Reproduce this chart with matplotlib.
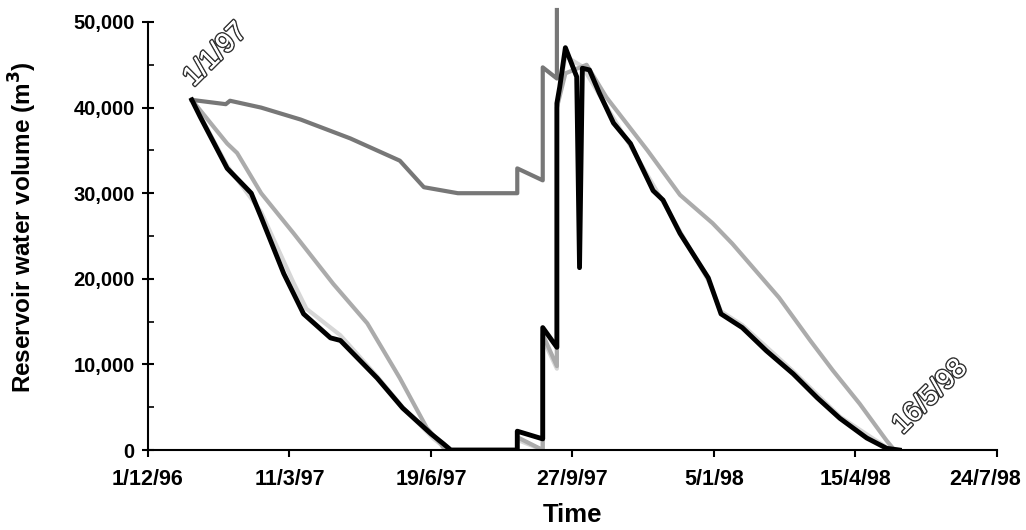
import matplotlib
matplotlib.use("Agg")
import matplotlib.pyplot as plt
import matplotlib.patheffects as pe
from matplotlib.ticker import MultipleLocator
from matplotlib.transforms import ScaledTranslation

# x values are days since 1/12/96
tick_days = [0, 100, 200, 300, 400, 500, 600]
tick_labels = ['1/12/96', '11/3/97', '19/6/97', '27/9/97', '5/1/98', '15/4/98', '24/7/98']
y_ticks = [0, 10000, 20000, 30000, 40000, 50000]

# dark grey series
dark_days = [31, 55, 58, 80, 108, 143, 178, 195, 219, 261, 261, 279, 279, 289, 289]
dark_vals = [40900, 40400, 40800, 40000, 38600, 36400, 33800, 30700, 30000, 30000, 32900, 31500, 44700, 43400, 51400]

# black series
black_days = [31, 37, 56, 73, 80, 96, 110, 129, 136, 162, 180, 200, 209, 214, 261, 261, 279, 279, 289, 289,
              291, 295, 303, 305, 307, 312, 319, 329, 341, 357, 364, 376, 396, 405, 420, 437, 456, 473,
              489, 508, 522, 531]
black_vals = [40900, 38900, 32900, 30000, 27200, 20600, 15900, 13100, 12800, 8400, 4900, 1900, 700, 0, 0, 2200,
              1300, 14300, 12000, 40500, 42400, 47000, 43600, 21300, 44600, 44400, 41700, 38200, 35800, 30300,
              29200, 25300, 20100, 15900, 14300, 11600, 8900, 6100, 3700, 1400, 200, 0]

# medium light grey series
mid_days = [31, 56, 63, 80, 103, 131, 155, 178, 197, 207, 210, 261, 261, 279, 279, 289, 289, 295, 310,
            324, 353, 376, 399, 413, 446, 468, 484, 503, 522, 527]
mid_vals = [40900, 35800, 34700, 30000, 25300, 19400, 14800, 8400, 2600, 700, 0, 0, 1500, 0, 13500, 9800,
            40000, 44000, 45000, 41200, 35000, 29800, 26500, 24100, 17800, 12800, 9300, 5400, 1100, 100]

# very light grey series
light_days = [31, 56, 80, 103, 112, 136, 162, 180, 202, 212, 261, 261, 279, 279, 289, 289, 295, 307,
              319, 341, 364, 396, 405, 420, 456, 489, 522, 530]
light_vals = [40900, 33200, 27800, 19500, 16500, 13400, 8600, 5000, 1300, 0, 0, 1200, 0, 13000, 9500,
              40000, 46000, 44800, 41500, 35500, 29000, 19800, 16200, 14600, 9200, 3900, 300, 0]

fam = ['Liberation Sans', 'DejaVu Sans']

fig = plt.figure(figsize=(10.26, 5.30), dpi=100)
ax = fig.add_axes([0.1442, 0.1509, 0.8275, 0.8076])

ax.plot(light_days, light_vals, color='#d6d6d6', lw=3)
ax.plot(mid_days, mid_vals, color='#ababab', lw=3)
ax.plot(dark_days, dark_vals, color='#777777', lw=3, clip_on=False)
ax.plot(black_days, black_vals, color='black', lw=3.5)

ax.set_xlim(0, 600)
ax.set_ylim(0, 50000)
ax.set_xticks(tick_days)
ax.set_xticklabels(tick_labels)
ax.set_yticks(y_ticks)
ax.set_yticklabels([f'{v:,}' for v in y_ticks])
ax.yaxis.set_minor_locator(MultipleLocator(5000))

ax.spines['top'].set_visible(False)
ax.spines['right'].set_visible(False)
ax.spines['left'].set_linewidth(1.5)
ax.spines['bottom'].set_linewidth(1.5)
ax.tick_params(axis='x', direction='out', length=5, width=1.5, pad=8.5)
ax.tick_params(axis='y', which='major', direction='inout', length=9, width=1.5, pad=5)
ax.tick_params(axis='y', which='minor', direction='in', length=4, width=1.2)

for lab in ax.get_xticklabels() + ax.get_yticklabels():
    lab.set_family(fam)
    lab.set_fontweight('bold')
for lab in ax.get_xticklabels():
    lab.set_fontsize(15.5)
for lab in ax.get_yticklabels():
    lab.set_fontsize(14.5)
# last date label sits a little left so it stays inside the picture
last = ax.get_xticklabels()[-1]
last.set_transform(last.get_transform() + ScaledTranslation(-0.12, 0, fig.dpi_scale_trans))

ax.set_xlabel('Time', fontsize=18.5, fontweight='bold', family=fam)
ax.xaxis.set_label_coords(0.5, -0.124)
ax.set_ylabel('Reservoir water volume (m$^\\mathbf{3}$)', fontsize=17.5, fontweight='bold', family=fam)
ax.yaxis.set_label_coords(-0.128, 0.52)

outline = [pe.withStroke(linewidth=2.2, foreground='#333333'), pe.Normal()]
ax.text(48, 46150, '1/1/97', rotation=45, ha='center', va='center', fontsize=20,
        color='white', family=fam, path_effects=outline)
ax.text(553, 6200, '16/5/98', rotation=45, ha='center', va='center', fontsize=20,
        color='white', family=fam, path_effects=outline)

fig.savefig('out.png', dpi=100)
